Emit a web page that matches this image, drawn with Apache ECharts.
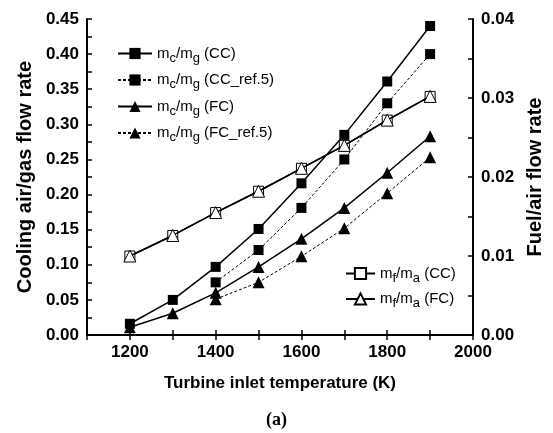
<!DOCTYPE html>
<html><head><meta charset="utf-8">
<script src="https://cdn.jsdelivr.net/npm/echarts@6/dist/echarts.min.js"></script>
<style>html,body{margin:0;padding:0;background:#fff}#c{width:553px;height:433px}</style>
</head><body><div id="c"></div>
<script>
var temps = [1200, 1300, 1400, 1500, 1600, 1700, 1800, 1900];
var tempsRef = [1400, 1500, 1600, 1700, 1800, 1900];
var mcCC = [0.016, 0.050, 0.097, 0.151, 0.216, 0.285, 0.361, 0.440];
var mcCCref = [0.075, 0.121, 0.181, 0.250, 0.330, 0.400];
var mcFC = [0.011, 0.031, 0.060, 0.097, 0.137, 0.181, 0.231, 0.283];
var mcFCref = [0.051, 0.075, 0.112, 0.152, 0.202, 0.253];
var mfCC = [0.0100, 0.0126, 0.0155, 0.0182, 0.0211, 0.0240, 0.0272, 0.0302];
var mfFC = [0.0100, 0.0126, 0.0155, 0.0182, 0.0211, 0.0240, 0.0272, 0.0302];

function pairs(xs, ys){ return xs.map(function(x,i){ return [x, ys[i]]; }); }
var F = 'Liberation Sans, Arial, sans-serif';
var rich = {
  n: {fontFamily: F, fontSize: 15, color: '#000'},
  s: {fontFamily: F, fontSize: 13, color: '#000', padding: [9, 0, 0, 0]}
};
function lab(a, b, c){ return '{n|m}{s|' + a + '}{n|/m}{s|' + b + '}{n| ' + c + '}'; }
var names = {
  'cc': lab('c','g','(CC)'), 'ccr': lab('c','g','(CC_ref.5)'),
  'fc': lab('c','g','(FC)'), 'fcr': lab('c','g','(FC_ref.5)'),
  'fcc': lab('f','a','(CC)'), 'ffc': lab('f','a','(FC)')
};
var axisCommon = {
  axisLine: {show: true, lineStyle: {color: '#000', width: 2}},
  axisTick: {show: true, inside: true, length: 5, lineStyle: {color: '#000', width: 1.5}},
  splitLine: {show: false}
};
var chart = echarts.init(document.getElementById('c'));
chart.setOption({
  animation: false,
  backgroundColor: '#fff',
  grid: {left: 87, right: 79, top: 19, bottom: 98},
  xAxis: [
    Object.assign({type: 'value', min: 1100, max: 2000, interval: 100, position: 'bottom',
      name: 'Turbine inlet temperature (K)', nameLocation: 'middle', nameGap: 40,
      nameTextStyle: {fontFamily: F, fontWeight: 'bold', fontSize: 17, color: '#000'},
      axisLabel: {margin: 9, fontFamily: F, fontWeight: 'bold', fontSize: 17, color: '#000',
        formatter: function(v){ return (v % 200 === 0) ? String(v) : ''; }}}, axisCommon),
    Object.assign({type: 'value', min: 1100, max: 2000, interval: 100, position: 'top',
      axisLabel: {show: false}}, axisCommon)
  ],
  yAxis: [
    Object.assign({type: 'value', min: 0, max: 0.45, interval: 0.025, position: 'left',
      name: 'Cooling air/gas flow rate', nameLocation: 'middle', nameGap: 52, nameRotate: 90,
      nameTextStyle: {fontFamily: F, fontWeight: 'bold', fontSize: 20, color: '#000'},
      axisLabel: {margin: 8, fontFamily: F, fontWeight: 'bold', fontSize: 17, color: '#000',
        formatter: function(v){ return (Math.round(v*1000) % 50 === 0) ? v.toFixed(2) : ''; }}}, axisCommon),
    Object.assign({type: 'value', min: 0, max: 0.04, interval: 0.005, position: 'right',
      name: 'Fuel/air flow rate', nameLocation: 'middle', nameGap: 52, nameRotate: 90,
      nameTextStyle: {fontFamily: F, fontWeight: 'bold', fontSize: 20, color: '#000'},
      axisLabel: {margin: 8, fontFamily: F, fontWeight: 'bold', fontSize: 17, color: '#000',
        formatter: function(v){ return (Math.round(v*1000) % 10 === 0) ? v.toFixed(2) : ''; }}}, axisCommon)
  ],
  legend: [
    {data: [names.cc, names.ccr, names.fc, names.fcr], orient: 'vertical', left: 117, top: 46, padding: 0,
      itemWidth: 34, itemHeight: 14, itemGap: 8, textStyle: {rich: rich}},
    {data: [names.fcc, names.ffc], orient: 'vertical', left: 345, top: 266, padding: 0,
      itemWidth: 29, itemHeight: 14, itemGap: 7, textStyle: {rich: rich}}
  ],
  series: [
    {name: names.cc, type: 'line', data: pairs(temps, mcCC), symbol: 'rect', symbolSize: 10,
      itemStyle: {color: '#000'}, lineStyle: {color: '#000', width: 1.5}, z: 3},
    {name: names.ccr, type: 'line', data: pairs(tempsRef, mcCCref), symbol: 'rect', symbolSize: 10,
      itemStyle: {color: '#000'}, lineStyle: {color: '#000', width: 1, type: [3, 2]}, z: 3},
    {name: names.fc, type: 'line', data: pairs(temps, mcFC), symbol: 'triangle', symbolSize: 12,
      itemStyle: {color: '#000'}, lineStyle: {color: '#000', width: 1.5}, z: 3},
    {name: names.fcr, type: 'line', data: pairs(tempsRef, mcFCref), symbol: 'triangle', symbolSize: 12,
      itemStyle: {color: '#000'}, lineStyle: {color: '#000', width: 1, type: [3, 2]}, z: 3},
    {name: names.fcc, type: 'line', yAxisIndex: 1, data: pairs(temps, mfCC), symbol: 'rect', symbolSize: 10,
      itemStyle: {color: '#fff', borderColor: '#000', borderWidth: 1}, lineStyle: {color: '#000', width: 1.5}, z: 4},
    {name: names.ffc, type: 'line', yAxisIndex: 1, data: pairs(temps, mfFC), symbol: 'triangle', symbolSize: 12,
      itemStyle: {color: '#fff', borderColor: '#000', borderWidth: 1}, lineStyle: {color: '#000', width: 1.5}, z: 5}
  ],
  graphic: [
    {type: 'text', left: 'center', top: 411, style: {text: '(a)', font: 'bold 18px "Liberation Serif", "Times New Roman", serif', fill: '#000'}}
  ]
});
</script></body></html>
